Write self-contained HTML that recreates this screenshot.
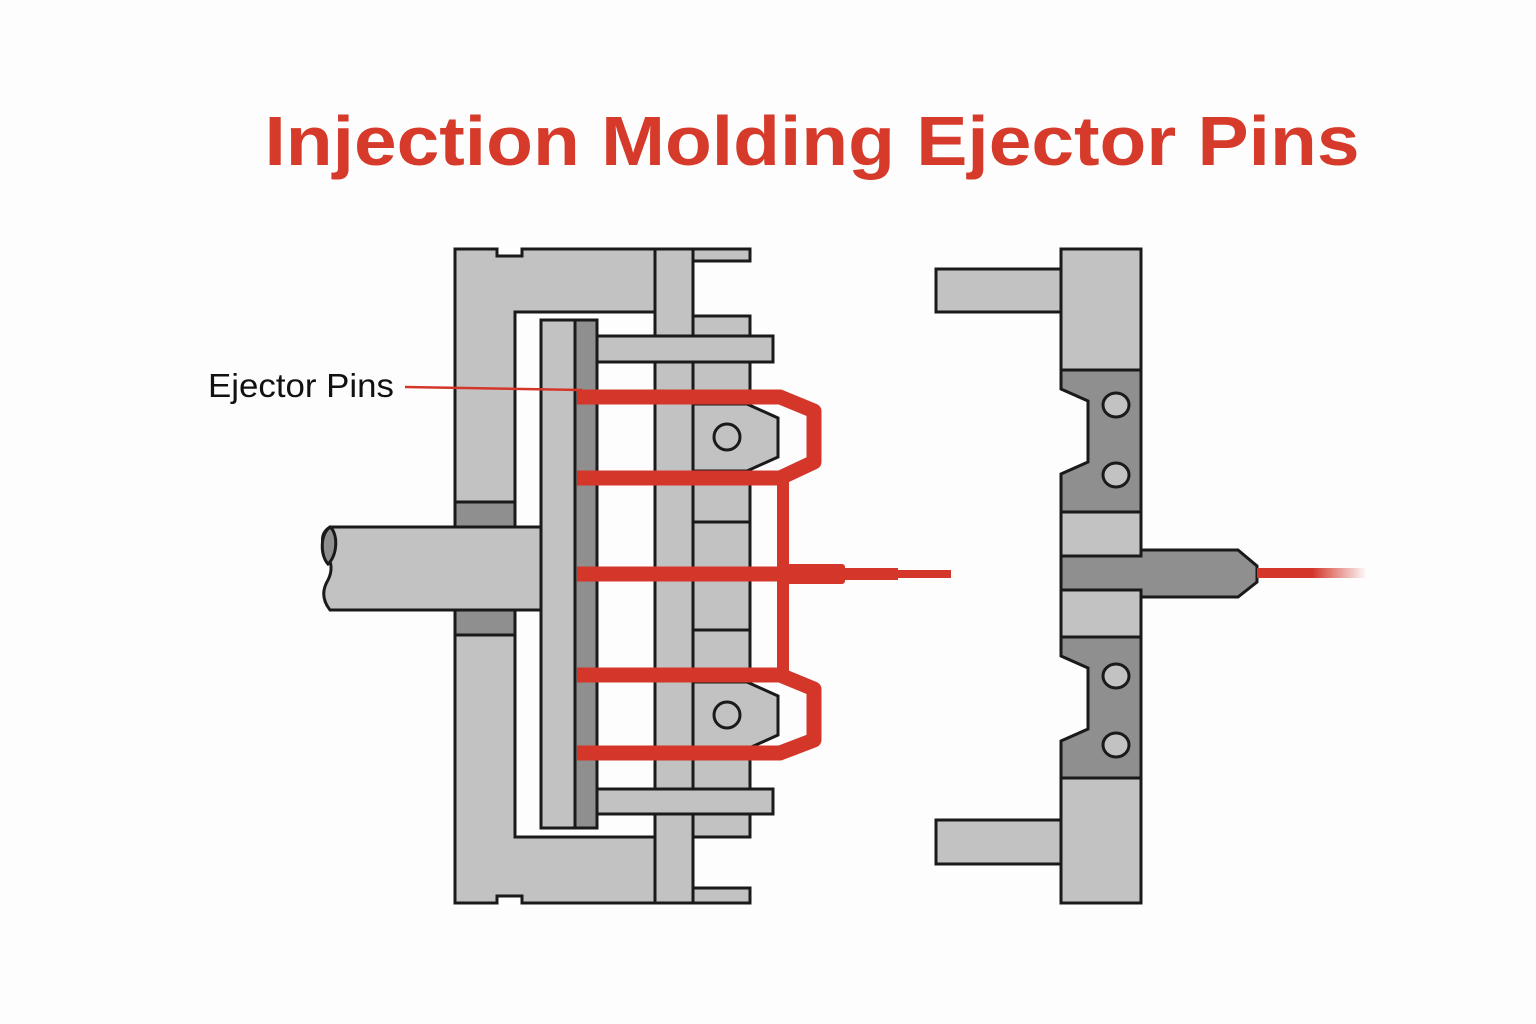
<!DOCTYPE html>
<html><head><meta charset="utf-8"><style>
html,body{margin:0;padding:0;background:#fdfdfd;}
svg{display:block;}
</style></head><body>
<svg width="1536" height="1024" viewBox="0 0 1536 1024" xmlns="http://www.w3.org/2000/svg">
<defs>
<linearGradient id="fade" x1="0" x2="1" y1="0" y2="0">
<stop offset="0" stop-color="#d4362a"/><stop offset="0.5" stop-color="#d4362a"/><stop offset="1" stop-color="#d4362a" stop-opacity="0"/>
</linearGradient>
</defs>
<rect width="1536" height="1024" fill="#fdfdfd"/>
<text x="812" y="165" text-anchor="middle" font-family="Liberation Sans, sans-serif" font-weight="bold" font-size="70" fill="#d63a2a" textLength="1095" lengthAdjust="spacingAndGlyphs">Injection Molding Ejector Pins</text>

<g stroke="#1a1a1a" stroke-width="3" fill="#c2c2c2" stroke-linejoin="miter">
<path d="M455,249 H497 V256 H522 V249 H655 V312 H515 V837 H655 V903 H522 V896 H497 V903 H455 Z"/>
<rect x="455" y="502" width="60" height="25" fill="#8f8f8f"/>
<rect x="455" y="610" width="60" height="25" fill="#8f8f8f"/>
<rect x="655" y="249" width="38" height="654"/>
<rect x="693" y="249" width="57" height="12"/>
<rect x="693" y="888" width="57" height="15"/>
<rect x="693" y="316" width="57" height="206"/>
<rect x="693" y="522" width="57" height="108"/>
<rect x="693" y="630" width="57" height="207"/>
<path d="M330,527 H543 V610 H330 C322,600 322,590 328,580 C334,568 330,560 326,552 C320,540 322,532 330,527 Z"/>
<path d="M330,527 C338,533 338,555 328,564 C320,555 320,535 330,527 Z" fill="#8f8f8f"/>
<rect x="541" y="320" width="34" height="508"/>
<rect x="575" y="320" width="22" height="508" fill="#8f8f8f"/>
<rect x="597" y="336" width="176" height="26"/>
<rect x="597" y="789" width="176" height="25"/>
<path d="M693,404 H747 L778,418 V457 L747,471 H693 Z"/>
<path d="M693,682 H747 L778,696 V735 L747,749 H693 Z"/>
<circle cx="727" cy="437" r="13"/>
<circle cx="727" cy="715" r="13"/>
</g>

<g fill="none" stroke="#d4362a" stroke-width="15" stroke-linejoin="round">
<path d="M577,397 H780 L814,411 V462 L780,478 H577"/>
<path d="M577,675 H780 L814,689 V740 L780,753 H577"/>
<path d="M577,574 H790"/>
</g>
<rect x="777" y="478" width="12" height="197" fill="#d4362a"/>
<rect x="785" y="564" width="60" height="20" rx="3" fill="#d4362a"/>
<rect x="840" y="568" width="58" height="12" fill="#d4362a"/>
<rect x="895" y="570" width="56" height="8" fill="#d4362a"/>

<text x="208" y="397" font-family="Liberation Sans, sans-serif" font-size="33" fill="#111" textLength="186" lengthAdjust="spacingAndGlyphs">Ejector Pins</text>
<line x1="405" y1="387" x2="582" y2="390" stroke="#d4362a" stroke-width="2.5"/>

<g stroke="#1a1a1a" stroke-width="3" fill="#c2c2c2">
<rect x="936" y="269" width="125" height="43"/>
<rect x="936" y="820" width="125" height="44"/>
<rect x="1061" y="249" width="80" height="121"/>
<path d="M1061,370 H1141 V512 H1061 V474 L1088,462 V401 L1061,389 Z" fill="#8f8f8f"/>
<rect x="1061" y="512" width="80" height="44"/>
<path d="M1061,556 H1141 V550 H1238 L1257,566 V582 L1238,597 H1141 V590 H1061 Z" fill="#8f8f8f"/>
<rect x="1061" y="590" width="80" height="47"/>
<path d="M1061,637 H1141 V778 H1061 V741 L1088,729 V668 L1061,656 Z" fill="#8f8f8f"/>
<rect x="1061" y="778" width="80" height="125"/>
<ellipse cx="1116" cy="405" rx="13" ry="12"/>
<ellipse cx="1116" cy="475" rx="13" ry="12"/>
<ellipse cx="1116" cy="676" rx="13" ry="12"/>
<ellipse cx="1116" cy="745" rx="13" ry="12"/>
</g>
<rect x="1257" y="568" width="110" height="10" fill="url(#fade)"/>
</svg>
</body></html>
